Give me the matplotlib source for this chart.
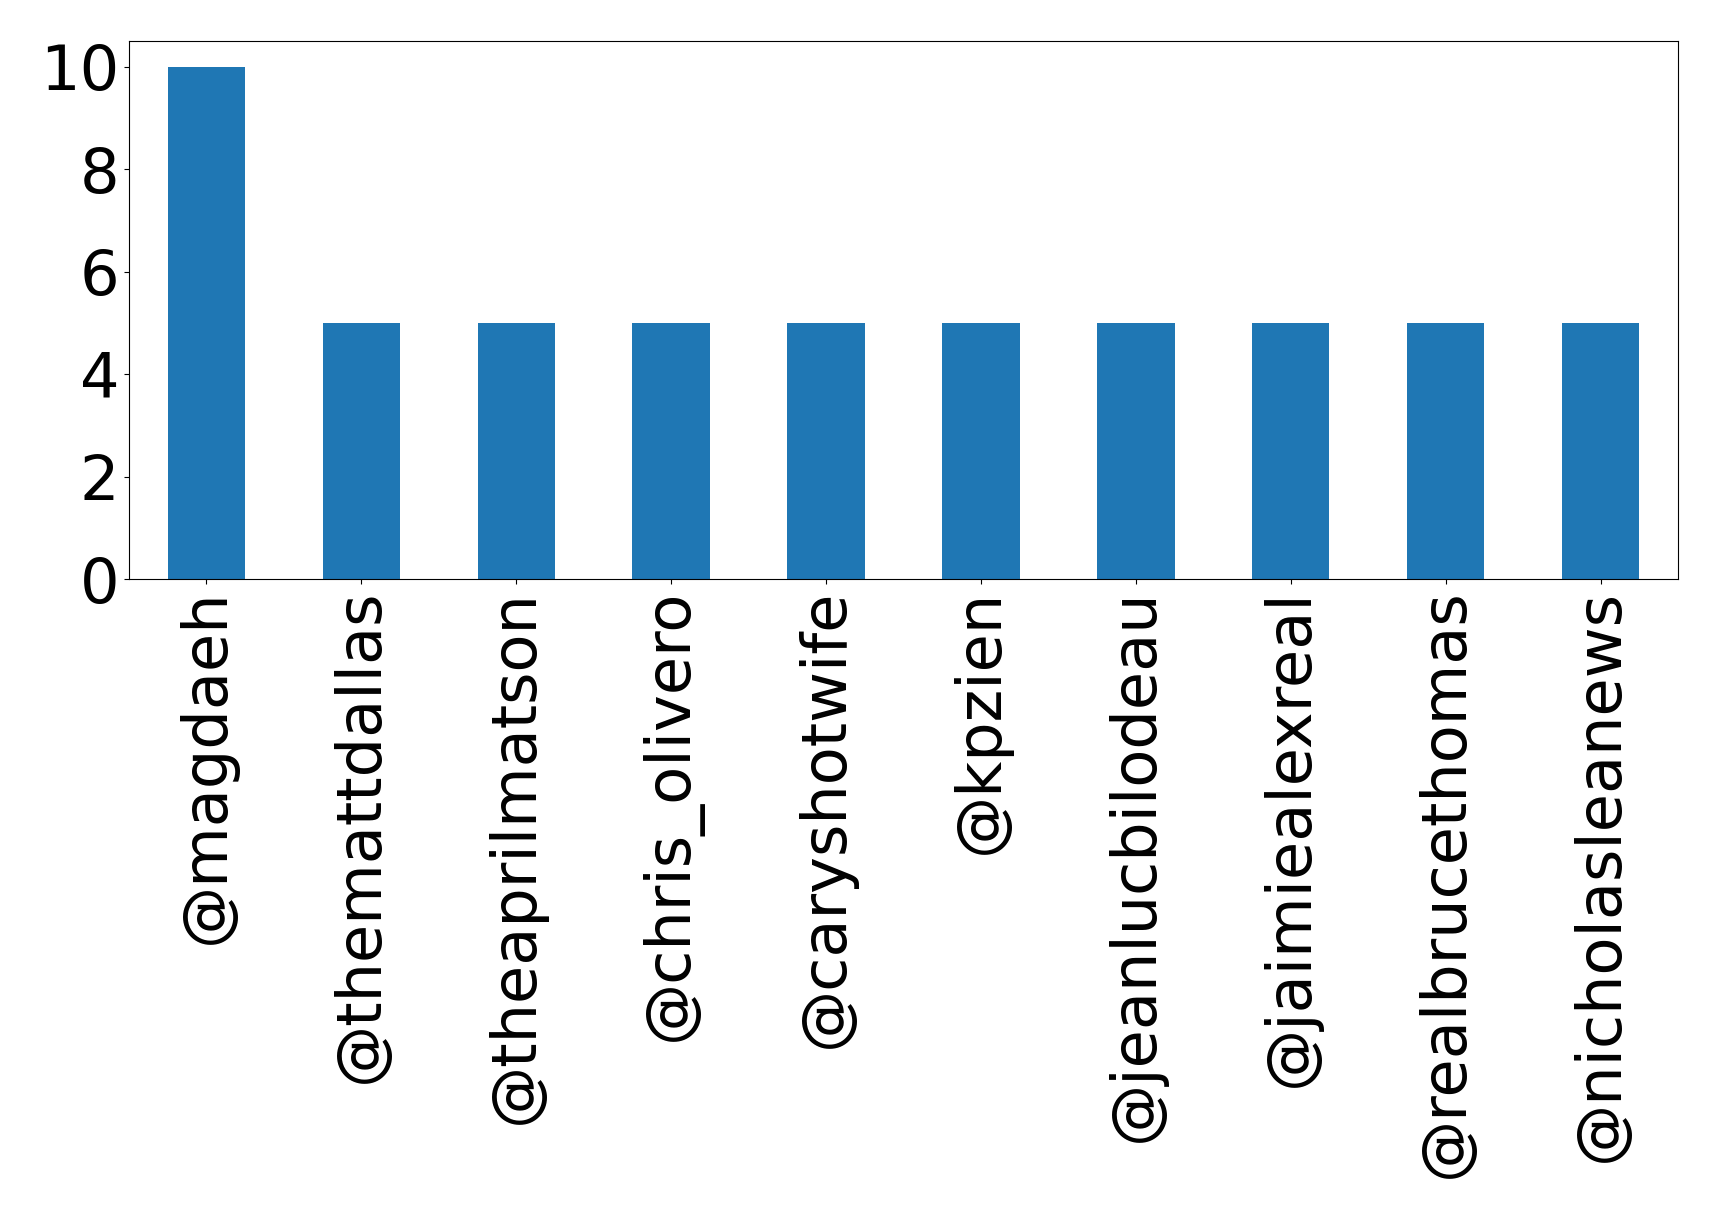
import numpy as np
import matplotlib.pyplot as plt

# accounts mentioned most often
users = ['@magdaeh', '@themattdallas', '@theaprilmatson', '@chris_olivero',
         '@caryshotwife', '@kpzien', '@jeanlucbilodeau', '@jaimiealexreal',
         '@realbrucethomas', '@nicholasleanews']
counts = [10, 5, 5, 5, 5, 5, 5, 5, 5, 5]
yticks = [0, 2, 4, 6, 8, 10]

fig = plt.figure(figsize=(17.19, 12.21), dpi=100)
ax = fig.add_axes([129/1719, 1 - 579/1221, (1678-129)/1719, (579-41)/1221])
x = np.arange(len(users))
ax.bar(x, counts, width=0.5, color='#1f77b4')
ax.set_xlim(-0.5, len(users) - 0.5)
ax.set_ylim(0, 10.5)
ax.set_yticks(yticks)
ax.set_xticks(x)
ax.set_xticklabels(users, rotation=90)
ax.tick_params(labelsize=44.8)
fig.savefig('out.png', dpi=100)
